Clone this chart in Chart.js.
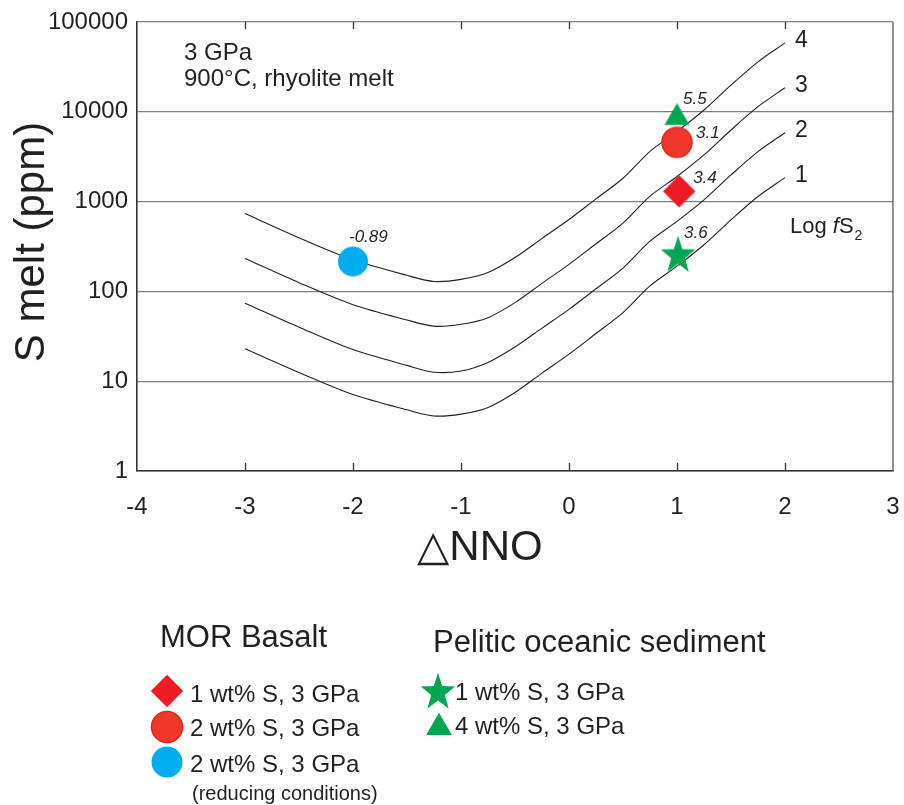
<!DOCTYPE html>
<html>
<head>
<meta charset="utf-8">
<script src="https://cdn.jsdelivr.net/npm/chart.js@4.4.1/dist/chart.umd.min.js"></script>
<style>
  html, body { margin: 0; padding: 0; background: #fff; }
  #wrap { width: 904px; height: 805px; }
</style>
</head>
<body>
<div id="wrap"><canvas id="chart-1" width="904" height="805"></canvas></div>
<script>
// S in melt (ppm) against delta NNO, one curve per log fS2
const nno = [-3, -2.5, -2, -1.5, -1.25, -1, -0.75, -0.5, -0.25, 0, 0.25, 0.5, 0.75, 1, 1.25, 1.5, 1.75, 2];
const curve1 = [23, 12.5, 7.1, 4.8, 4.1, 4.3, 5.1, 7.5, 12.3, 20, 34, 58, 115, 191, 331, 627, 1140, 1850];
const curve2 = [74, 40, 22.5, 15, 12.6, 13, 16.2, 24, 39, 63, 107, 182, 363, 603, 1047, 1980, 3600, 5850];
const curve3 = [233, 125, 71, 48, 41, 43, 51, 75, 123, 200, 339, 575, 1150, 1905, 3310, 6270, 11400, 18500];
const curve4 = [736, 396, 225, 151, 129, 136, 162, 238, 389, 631, 1072, 1820, 3630, 6030, 10470, 19800, 35970, 58480];
const curveLabels = ['1', '2', '3', '4'];

// experiments
const expGroup = ['MOR Basalt', 'MOR Basalt', 'MOR Basalt', 'Pelitic oceanic sediment', 'Pelitic oceanic sediment'];
const expName = ['1 wt% S, 3 GPa', '2 wt% S, 3 GPa', '2 wt% S, 3 GPa', '1 wt% S, 3 GPa', '4 wt% S, 3 GPa'];
const expNote = ['', '', '(reducing conditions)', '', ''];
const expNNO = [1.02, 1.0, -2.0, 1.01, 1.0];
const expS = [1300, 4570, 215, 250, 8600];
const expLogFs2 = ['3.4', '3.1', '-0.89', '3.6', '5.5'];

const yTicks = [1, 10, 100, 1000, 10000, 100000];

const FONT = '"Liberation Sans", Arial, Helvetica, sans-serif';
const INK = '#231f20';

const expStyle = [
  { shape: 'diamond', size: 16.2, legend: 16.2, fill: '#ed1c24' },
  { shape: 'circle', size: 15, legend: 15.5, fill: '#ef3829', stroke: '#e1251c' },
  { shape: 'circle', size: 15, legend: 15.5, fill: '#00aeef' },
  { shape: 'star', size: 18.2, legend: 18, fill: '#00a651' },
  { shape: 'triangle', size: 14.5, legend: 14.9, fill: '#00a651' }
];
const noteOffset = [[14, -8], [19, -4], [-4, -20], [6, -18], [6, -14]];
const legendPos = [
  { mx: 167, my: 691, tx: 190, ty: 702 },
  { mx: 167, my: 727, tx: 190, ty: 736 },
  { mx: 167, my: 762, tx: 190, ty: 771.5 },
  { mx: 438, my: 692.5, tx: 455, ty: 700 },
  { mx: 439, my: 727.6, tx: 455, ty: 733.5 }
];
const headingPos = { 'MOR Basalt': [160, 647], 'Pelitic oceanic sediment': [433, 652] };

function drawMarker(ctx, s, x, y, r) {
  ctx.save();
  ctx.fillStyle = s.fill;
  ctx.beginPath();
  if (s.shape === 'circle') {
    ctx.arc(x, y, r, 0, Math.PI * 2);
  } else if (s.shape === 'diamond') {
    ctx.moveTo(x, y - r); ctx.lineTo(x + r, y); ctx.lineTo(x, y + r); ctx.lineTo(x - r, y);
  } else if (s.shape === 'triangle') {
    ctx.moveTo(x, y - r); ctx.lineTo(x + 0.866 * r, y + 0.5 * r); ctx.lineTo(x - 0.866 * r, y + 0.5 * r);
  } else if (s.shape === 'star') {
    for (let i = 0; i < 10; i++) {
      const rr = i % 2 ? r * 0.4 : r;
      const a = -Math.PI / 2 + i * Math.PI / 5;
      const px = x + rr * Math.cos(a), py = y + 1.1 * rr * Math.sin(a);
      if (i) ctx.lineTo(px, py); else ctx.moveTo(px, py);
    }
  }
  ctx.closePath();
  ctx.fill();
  if (s.stroke) { ctx.strokeStyle = s.stroke; ctx.lineWidth = 1.5; ctx.stroke(); }
  ctx.restore();
}

function markerImage(s) {
  const d = Math.ceil(s.size * 2.5) + 4;
  const c = document.createElement('canvas');
  c.width = d; c.height = d;
  drawMarker(c.getContext('2d'), s, d / 2, d / 2, s.size);
  return c;
}

const datasets = [];
expS.forEach(function (v, i) {
  datasets.push({
    label: expGroup[i] + ': ' + expName[i],
    data: [{ x: expNNO[i], y: v }],
    pointStyle: markerImage(expStyle[i]),
    pointRadius: 10,
    order: 0
  });
});
const curves = [curve1, curve2, curve3, curve4];
curves.forEach(function (c, i) {
  datasets.push({
    label: 'log fS2 = ' + curveLabels[i],
    data: nno.map(function (x, j) { return { x: x, y: c[j] }; }),
    showLine: true,
    borderColor: INK,
    borderWidth: 1.1,
    pointRadius: 0,
    tension: 0.3,
    order: 1
  });
});

const extras = {
  id: 'extras',
  afterDraw(chart) {
    const ctx = chart.ctx, a = chart.chartArea, xs = chart.scales.x;
    ctx.save();
    // right frame
    ctx.strokeStyle = '#555';
    ctx.lineWidth = 1.3;
    ctx.beginPath();
    ctx.moveTo(a.right, a.top); ctx.lineTo(a.right, a.bottom);
    ctx.stroke();
    // inward ticks top and bottom
    ctx.strokeStyle = '#333';
    ctx.lineWidth = 1.3;
    xs.ticks.forEach(function (t) {
      if (t.value <= xs.min || t.value >= xs.max) return;
      const px = Math.round(xs.getPixelForValue(t.value)) + 0.5;
      ctx.beginPath();
      ctx.moveTo(px, a.bottom); ctx.lineTo(px, a.bottom - 8);
      ctx.moveTo(px, a.top); ctx.lineTo(px, a.top + 7);
      ctx.stroke();
    });

    ctx.fillStyle = INK;
    // curve labels at line ends
    ctx.font = '23px ' + FONT;
    ctx.textBaseline = 'middle';
    ctx.textAlign = 'left';
    curves.forEach(function (c, i) {
      const meta = chart.getDatasetMeta(expS.length + i);
      const last = meta.data[meta.data.length - 1];
      ctx.fillText(curveLabels[i], last.x + 10, last.y - 2);
    });

    // numbers next to the experiments
    ctx.textBaseline = 'alphabetic';
    ctx.font = 'italic 17px ' + FONT;
    expS.forEach(function (v, i) {
      const p = chart.getDatasetMeta(i).data[0];
      ctx.fillText(expLogFs2[i], p.x + noteOffset[i][0], p.y + noteOffset[i][1]);
    });

    // conditions
    ctx.font = '24px ' + FONT;
    ctx.fillText('3 GPa', 184, 59.5);
    ctx.fillText('900°C, rhyolite melt', 184, 86);

    // Log fS2
    let lx = 790;
    ctx.font = '22px ' + FONT;
    ctx.fillText('Log ', lx, 233);
    lx += ctx.measureText('Log ').width;
    ctx.font = 'italic 22px ' + FONT;
    ctx.fillText('f', lx, 233);
    lx += ctx.measureText('f').width;
    ctx.font = '22px ' + FONT;
    ctx.fillText('S', lx, 233);
    lx += ctx.measureText('S').width + 1;
    ctx.font = '14px ' + FONT;
    ctx.fillText('2', lx, 240);

    // axis titles
    ctx.font = '42px ' + FONT;
    ctx.textAlign = 'center';
    ctx.fillText('\u25B3NNO', 480, 560);
    ctx.save();
    ctx.translate(43.5, 242);
    ctx.rotate(-Math.PI / 2);
    ctx.fillText('S melt (ppm)', 0, 0);
    ctx.restore();

    // legend
    ctx.textAlign = 'left';
    ctx.font = '31px ' + FONT;
    Object.keys(headingPos).forEach(function (g) {
      ctx.fillText(g, headingPos[g][0], headingPos[g][1]);
    });
    expS.forEach(function (v, i) {
      const L = legendPos[i];
      drawMarker(ctx, expStyle[i], L.mx, L.my, expStyle[i].legend);
      ctx.fillStyle = INK;
      ctx.font = '24px ' + FONT;
      ctx.fillText(expName[i], L.tx, L.ty);
      if (expNote[i]) {
        ctx.font = '20px ' + FONT;
        ctx.fillText(expNote[i], L.tx + 2, L.ty + 28.5);
      }
    });
    ctx.restore();
  }
};

const chart1 = document.getElementById('chart-1').getContext('2d');
const myChart1 = new Chart(chart1, {
  type: 'scatter',
  data: { datasets: datasets },
  options: {
    responsive: false,
    animation: false,
    devicePixelRatio: 1,
    layout: { padding: { top: 22, right: 8, left: 0, bottom: 0 } },
    plugins: {
      legend: { display: false },
      tooltip: { enabled: false }
    },
    scales: {
      x: {
        type: 'linear',
        min: -4,
        max: 3,
        ticks: { stepSize: 1, color: INK, font: { family: FONT, size: 24 }, padding: 22 },
        grid: { display: false, drawTicks: false },
        border: { display: true, color: '#333', width: 1.6 },
        afterFit: function (s) { s.height = 334; s.paddingLeft = 0; s.paddingRight = 0; }
      },
      y: {
        type: 'logarithmic',
        min: 1,
        max: 100000,
        afterBuildTicks: function (s) { s.ticks = yTicks.map(function (v) { return { value: v }; }); },
        ticks: {
          color: INK,
          font: { family: FONT, size: 24 },
          padding: 9,
          callback: function (v) { return String(v); }
        },
        grid: { color: '#808080', lineWidth: 1.3, drawTicks: false },
        border: { display: true, color: '#333', width: 1.6 },
        afterFit: function (s) { s.width = 137; s.paddingTop = 0; s.paddingBottom = 0; }
      }
    }
  },
  plugins: [extras]
});
</script>
</body>
</html>
